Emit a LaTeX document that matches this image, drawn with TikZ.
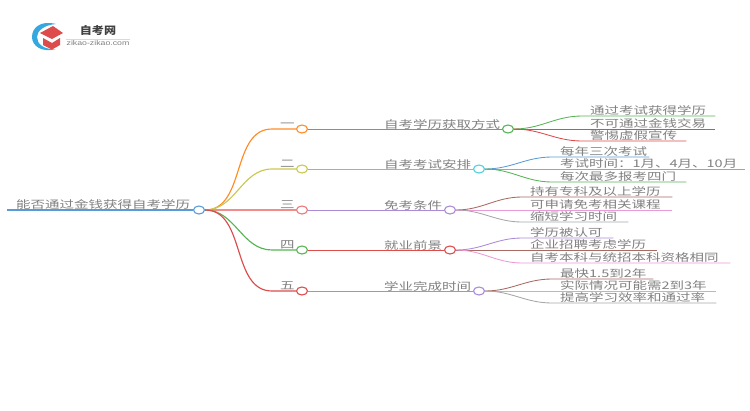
\documentclass[tikz,border=0pt]{standalone}
\usepackage{fontspec}
\setmainfont[FakeStretch=1.38]{Noto Sans CJK SC}
\newfontfamily\logofont[FakeStretch=1.15]{Noto Sans CJK SC}
\newfontfamily\latinfont[FakeStretch=1.25]{Liberation Sans}
\usetikzlibrary{positioning,shapes.geometric}
\definecolor{txtgray}{HTML}{808080}
\definecolor{cblue}{HTML}{5B9BD5}
\definecolor{clogo}{HTML}{35A8E0}
\definecolor{corange}{HTML}{FF8C26}
\definecolor{colive}{HTML}{C9C94F}
\definecolor{csalmon}{HTML}{F28B8B}
\definecolor{cgreen}{HTML}{55B555}
\definecolor{cred}{HTML}{DD4B4B}
\definecolor{ccyan}{HTML}{4FD2DC}
\definecolor{cpurple}{HTML}{A98BD6}
\definecolor{cbrown}{HTML}{A86A62}
\definecolor{cpink}{HTML}{EB9AD8}
\definecolor{cgray}{HTML}{A6A6A6}
\tikzset{
	dot/.style={draw,ellipse,fill=white,line width=1.1pt,inner sep=0pt,minimum width=11pt,minimum height=8pt},
	lab/.style={text=txtgray,inner sep=0pt,font=\fontsize{10.5}{12}\selectfont,text height=9pt,text depth=1pt},
	leaf/.style={lab,anchor=south west,inner xsep=8pt,align=left},
	conn/.style={line width=0.85pt},
	trunk/.style={line width=1.15pt}
}
\begin{document}
\begin{tikzpicture}[x=1pt,y=-1pt]
	\useasboundingbox (0,0) rectangle (750,410);
	% logo
	\fill[clogo] (56,24) .. controls (40,20) and (32,28) .. (32,37) .. controls (32,46) and (42,53) .. (56,49)
	.. controls (44,50) and (37,44) .. (37,37) .. controls (37,31) and (44,25) .. (56,24) -- cycle;
	\fill[cred] (40,33) -- (53,26) -- (63,33) -- (52,39) -- cycle;
	\fill[cred] (43,38) -- (52,43) -- (60,38) -- (60,45) -- (52,49.5) -- (43,45) -- cycle;
	\node[text=black!75,inner sep=0pt,font=\logofont\fontsize{10.5}{12}\selectfont\bfseries] (logoname) at (98,31) {自考网};
	\node[text=txtgray,inner sep=0pt,font=\latinfont\fontsize{7}{9}\selectfont,below=4.5pt of logoname] (logourl) {zikao-zikao.com};
	\draw[black!15,line width=0.5pt] (66,39) coordinate (logoa) -- (130,39) coordinate (logob);
	% main nodes
	\node[dot,draw=cblue] (root) at (199,210) {};
	\node[dot,draw=corange] (n1) at (302,129) {};
	\node[dot,draw=colive] (n2) at (302,169) {};
	\node[dot,draw=csalmon!70!cred] (n3) at (302,210) {};
	\node[dot,draw=cgreen] (n4) at (302,250) {};
	\node[dot,draw=cred] (n5) at (302,291) {};
	\node[dot,draw=cgreen] (m1) at (508,129) {};
	\node[dot,draw=ccyan] (m2) at (479,169) {};
	\node[dot,draw=cpurple] (m3) at (450,210) {};
	\node[dot,draw=cred] (m4) at (450,250) {};
	\node[dot,draw=cpurple] (m5) at (479,291) {};
	% root text and level one
	\node[lab,anchor=south west,inner xsep=9pt,text width=168pt] (roottxt) at (7,210) {能否通过金钱获得自考学历};
	\node[leaf,text width=6pt] (k1) at (272,129) {一};
	\node[leaf,text width=6pt] (k2) at (272,169) {二};
	\node[leaf,text width=6pt] (k3) at (272,210) {三};
	\node[leaf,text width=6pt] (k4) at (272,250) {四};
	\node[leaf,text width=6pt] (k5) at (272,291) {五};
	\node[lab,above left=-4pt and 3.5pt of m1] (t1) {自考学历获取方式};
	\node[lab,above left=-4pt and 3.5pt of m2] (t2) {自考考试安排};
	\node[lab,above left=-4pt and 3.5pt of m3] (t3) {免考条件};
	\node[lab,above left=-4pt and 3.5pt of m4] (t4) {就业前景};
	\node[lab,above left=-4pt and 3.5pt of m5] (t5) {学业完成时间};
	% leaves
	\node[leaf,text width=117pt] (l11) at (582,116) {通过考试获得学历};
	\node[leaf,text width=117pt] (l12) at (582,129) {不可通过金钱交易};
	\node[leaf,text width=88pt] (l13) at (582,141) {警惕虚假宣传};
	\node[leaf,text width=81pt] (l21) at (552,157) {每年三次考试};
	\node[leaf,text width=177pt] (l22) at (552,169) {考试时间：1月、4月、10月};
	\node[leaf,text width=118pt] (l23) at (552,182) {每次最多报考四门};
	\node[leaf,text width=134pt] (l31) at (522,197) {持有专科及以上学历};
	\node[leaf,text width=134pt] (l32) at (522,210) {可申请免考相关课程};
	\node[leaf,text width=90pt] (l33) at (522,222) {缩短学习时间};
	\node[leaf,text width=75pt] (l41) at (522,238) {学历被认可};
	\node[leaf,text width=119pt] (l42) at (522,250) {企业招聘考虑学历};
	\node[leaf,text width=192pt] (l43) at (522,263) {自考本科与统招本科资格相同};
	\node[leaf,text width=85pt] (l51) at (552,279) {最快1.5到2年};
	\node[leaf,text width=148pt] (l52) at (552,291) {实际情况可能需2到3年};
	\node[leaf,text width=148pt] (l53) at (552,303) {提高学习效率和通过率};
	% connectors
	\draw[cblue,line width=1.8pt] (roottxt.south west) -- (root.west);
	\draw[corange,trunk] (root.east) to [out=0,in=180] (k1.south west) -- (n1.west);
	\draw[colive,trunk] (root.east) to [out=0,in=180] (k2.south west) -- (n2.west);
	\draw[csalmon,trunk] (root.east) -- (n3.west);
	\draw[cgreen,trunk] (root.east) to [out=0,in=180] (k4.south west) -- (n4.west);
	\draw[cred,trunk] (root.east) to [out=0,in=180] (k5.south west) -- (n5.west);
	\draw[cgreen,conn] (n1.east) -- (m1.west);
	\draw[ccyan,conn] (n2.east) -- (m2.west);
	\draw[cpurple,conn] (n3.east) -- (m3.west);
	\draw[cred,conn] (n4.east) -- (m4.west);
	\draw[cpurple,conn] (n5.east) -- (m5.west);
	\draw[cgreen,conn] (m1.east) to [out=0,in=180] (l11.south west) -- (l11.south east);
	\draw[cred,conn] (m1.east) -- (l12.south east);
	\draw[cred,conn] (m1.east) to [out=0,in=180] (l13.south west) -- (l13.south east);
	\draw[cblue,conn] (m2.east) to [out=0,in=180] (l21.south west) -- (l21.south east);
	\draw[corange,conn] (m2.east) -- (l22.south east);
	\draw[cgreen,conn] (m2.east) to [out=0,in=180] (l23.south west) -- (l23.south east);
	\draw[cbrown,conn] (m3.east) to [out=0,in=180] (l31.south west) -- (l31.south east);
	\draw[cpink,conn] (m3.east) -- (l32.south east);
	\draw[cgray,conn] (m3.east) to [out=0,in=180] (l33.south west) -- (l33.south east);
	\draw[cpurple,conn] (m4.east) to [out=0,in=180] (l41.south west) -- (l41.south east);
	\draw[cbrown,conn] (m4.east) -- (l42.south east);
	\draw[cpink,conn] (m4.east) to [out=0,in=180] (l43.south west) -- (l43.south east);
	\draw[cbrown,conn] (m5.east) to [out=0,in=180] (l51.south west) -- (l51.south east);
	\draw[cpink,conn] (m5.east) -- (l52.south east);
	\draw[cgray,conn] (m5.east) to [out=0,in=180] (l53.south west) -- (l53.south east);
\end{tikzpicture}
\end{document}
